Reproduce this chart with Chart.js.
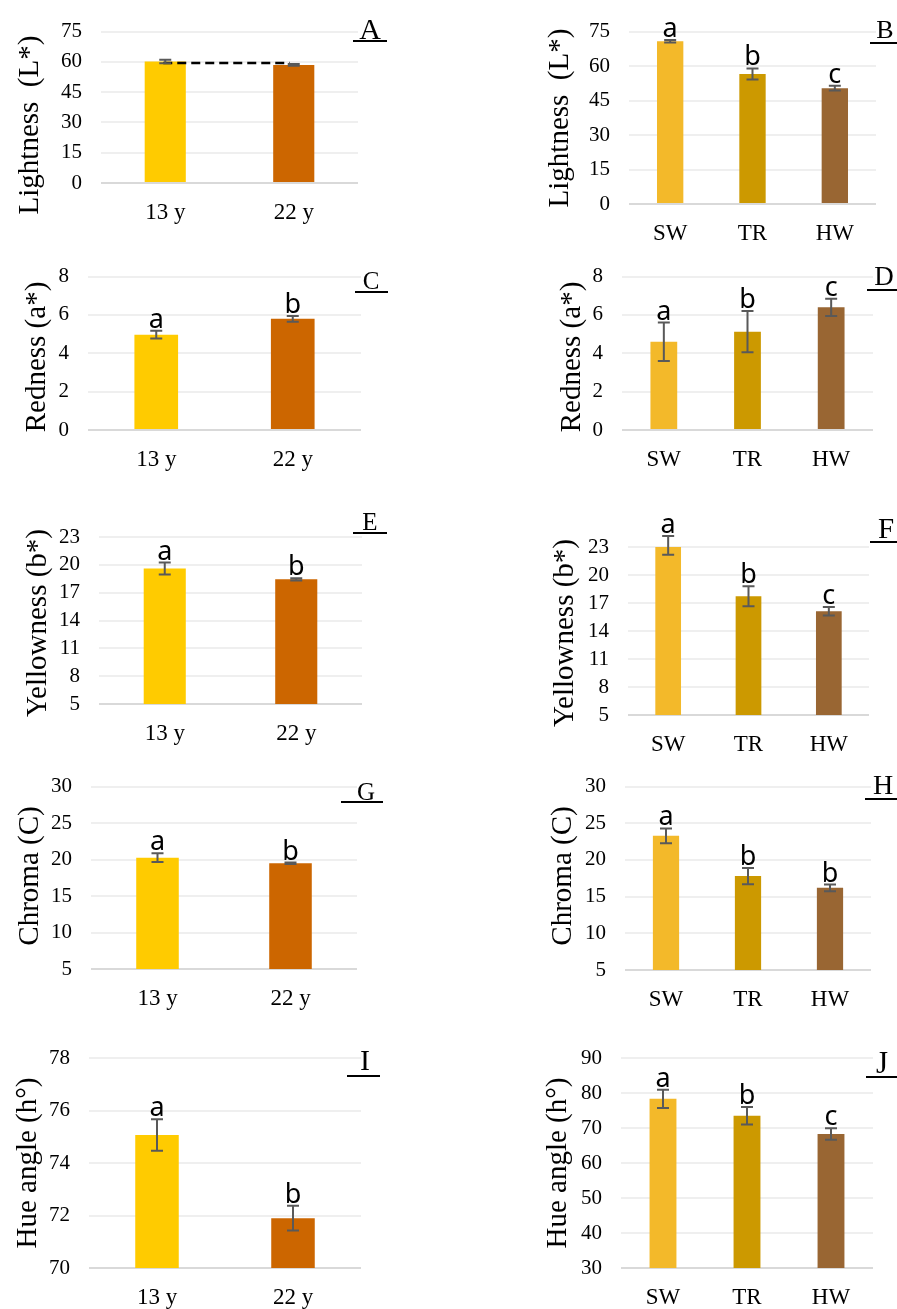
<!DOCTYPE html>
<html>
<head>
<meta charset="utf-8">
<script src="https://cdn.jsdelivr.net/npm/chart.js@4.4.1/dist/chart.umd.min.js"></script>
<style>
  body { margin: 0; background: #fff; width: 897px; height: 1309px; position: relative; overflow: hidden; }
  canvas { position: absolute; }
</style>
</head>
<body>
<script>
// categories
const ages = ['13 y', '22 y'];
const zones = ['SW', 'TR', 'HW'];
const ageColors = ['#FFCB00', '#CC6600'];
const zoneColors = ['#F3B92A', '#CC9900', '#996633'];

// Lightness
const lightAge = [60.2, 58.5];
const lightAgeErr = [0.9, 0.4];
const lightAgeLevel = 59.5; // dashed line, no difference
const lightZone = [70.8, 56.6, 50.4];
const lightZoneErr = [0.5, 2.4, 1.0];
const lightZoneMarks = ['a', 'b', 'c'];

// Redness
const redAge = [4.97, 5.8];
const redAgeErr = [0.2, 0.15];
const redAgeMarks = ['a', 'b'];
const redZone = [4.6, 5.13, 6.4];
const redZoneErr = [1.0, 1.07, 0.45];
const redZoneMarks = ['a', 'b', 'c'];

// Yellowness
const yelAge = [19.6, 18.44];
const yelAgeErr = [0.65, 0.12];
const yelAgeMarks = ['a', 'b'];
const yelZone = [23.18, 17.73, 16.12];
const yelZoneErr = [1.0, 1.07, 0.45];
const yelZoneMarks = ['a', 'b', 'c'];

// Chroma
const chrAge = [20.25, 19.48];
const chrAgeErr = [0.6, 0.1];
const chrAgeMarks = ['a', 'b'];
const chrZone = [23.29, 17.8, 16.2];
const chrZoneErr = [1.0, 1.1, 0.45];
const chrZoneMarks = ['a', 'b', 'b'];

// Hue angle
const hueAge = [75.07, 71.9];
const hueAgeErr = [0.6, 0.47];
const hueAgeMarks = ['a', 'b'];
const hueZone = [78.35, 73.5, 68.3];
const hueZoneErr = [2.6, 2.5, 1.65];
const hueZoneMarks = ['a', 'b', 'c'];

const SERIF = '"Liberation Serif", "Times New Roman", serif';
const SANS = '"Noto Sans", "Open Sans", sans-serif';

const cols = [[0, 450], [450, 897]];
const rows = [[0, 250], [245, 500], [495, 760], [755, 1020], [1015, 1309]];

const panels = [
  { name: 'A', cats: ages, vals: lightAge, errs: lightAgeErr, marks: null, colors: ageColors, dash: lightAgeLevel,
    min: 0, max: 75, step: 15, title: 'Lightness  (L*)', col: 0, row: 0,
    plot: [101, 24, 358, 183], titleAt: [30, 125], lab: [370, 39, 30, 353, 387, 41] },
  { name: 'B', cats: zones, vals: lightZone, errs: lightZoneErr, marks: lightZoneMarks, colors: zoneColors,
    min: 0, max: 75, step: 15, title: 'Lightness  (L*)', col: 1, row: 0,
    plot: [629, 24, 876, 204], titleAt: [560, 118], lab: [885, 38, 26, 870, 897, 43] },
  { name: 'C', cats: ages, vals: redAge, errs: redAgeErr, marks: redAgeMarks, colors: ageColors,
    min: 0, max: 8, step: 2, title: 'Redness (a*)', col: 0, row: 1,
    plot: [88, 274, 361, 430], titleAt: [37, 357], lab: [371, 289, 25, 355, 388, 292] },
  { name: 'D', cats: zones, vals: redZone, errs: redZoneErr, marks: redZoneMarks, colors: zoneColors,
    min: 0, max: 8, step: 2, title: 'Redness (a*)', col: 1, row: 1,
    plot: [622, 274, 873, 430], titleAt: [572, 357], lab: [884, 285, 27, 867, 897, 290] },
  { name: 'E', cats: ages, vals: yelAge, errs: yelAgeErr, marks: yelAgeMarks, colors: ageColors,
    min: 5, max: 23, step: 3, title: 'Yellowness (b*)', col: 0, row: 2,
    plot: [99, 537, 362, 704], titleAt: [38, 623], lab: [370, 530, 25, 353, 387, 533] },
  { name: 'F', cats: zones, vals: yelZone, errs: yelZoneErr, marks: yelZoneMarks, colors: zoneColors,
    min: 5, max: 23, step: 3, title: 'Yellowness (b*)', col: 1, row: 2,
    plot: [628, 547, 869, 715], titleAt: [565, 633], lab: [886, 538, 29, 870, 897, 542] },
  { name: 'G', cats: ages, vals: chrAge, errs: chrAgeErr, marks: chrAgeMarks, colors: ageColors,
    min: 5, max: 30, step: 5, title: 'Chroma (C)', col: 0, row: 3,
    plot: [91, 784, 357, 969], titleAt: [30, 876], lab: [366, 800, 25, 341, 383, 802] },
  { name: 'H', cats: zones, vals: chrZone, errs: chrZoneErr, marks: chrZoneMarks, colors: zoneColors,
    min: 5, max: 30, step: 5, title: 'Chroma (C)', col: 1, row: 3,
    plot: [625, 783, 871, 970], titleAt: [563, 876], lab: [883, 794, 28, 865, 897, 799] },
  { name: 'I', cats: ages, vals: hueAge, errs: hueAgeErr, marks: hueAgeMarks, colors: ageColors,
    min: 70, max: 78, step: 2, title: 'Hue angle (h°)', col: 0, row: 4,
    plot: [89, 1058, 361, 1268], titleAt: [28, 1163], lab: [365, 1070, 30, 347, 380, 1076] },
  { name: 'J', cats: zones, vals: hueZone, errs: hueZoneErr, marks: hueZoneMarks, colors: zoneColors,
    min: 30, max: 90, step: 10, title: 'Hue angle (h°)', col: 1, row: 4,
    plot: [621, 1058, 873, 1268], titleAt: [558, 1163], lab: [882, 1073, 31, 866, 897, 1077] }
];

// error bars, letters, titles and the panel letter
function decor(p, ox, oy) {
  return {
    id: 'decor' + p.name,
    afterDatasetsDraw(chart) {
      const ctx = chart.ctx;
      const y = chart.scales.y;
      const bars = chart.getDatasetMeta(0).data;
      ctx.save();
      if (p.dash !== undefined) {
        ctx.strokeStyle = '#000';
        ctx.lineWidth = 2.5;
        ctx.setLineDash([9, 5]);
        const py = y.getPixelForValue(p.dash);
        ctx.beginPath();
        ctx.moveTo(bars[0].x - 2, py);
        ctx.lineTo(bars[1].x - 4, py);
        ctx.stroke();
        ctx.setLineDash([]);
      }
      ctx.strokeStyle = '#595959';
      ctx.lineWidth = 2;
      p.vals.forEach(function(v, i) {
        const x = bars[i].x;
        const top = y.getPixelForValue(v + p.errs[i]);
        const bot = y.getPixelForValue(v - p.errs[i]);
        ctx.beginPath();
        ctx.moveTo(x, top); ctx.lineTo(x, bot);
        ctx.moveTo(x - 6, top); ctx.lineTo(x + 6, top);
        ctx.moveTo(x - 6, bot); ctx.lineTo(x + 6, bot);
        ctx.stroke();
        if (p.marks) {
          ctx.fillStyle = '#000';
          ctx.font = '27px ' + SANS;
          ctx.textAlign = 'center';
          ctx.textBaseline = 'alphabetic';
          ctx.fillText(p.marks[i], x, top - 3);
        }
      });
      ctx.restore();
    },
    afterDraw(chart) {
      const ctx = chart.ctx;
      ctx.save();
      ctx.fillStyle = '#000';
      ctx.font = '29px ' + SERIF;
      ctx.textAlign = 'center';
      ctx.textBaseline = 'middle';
      ctx.translate(p.titleAt[0] - ox, p.titleAt[1] - oy);
      ctx.rotate(-Math.PI / 2);
      ctx.fillText(p.title, 0, 0);
      ctx.restore();

      const l = p.lab;
      ctx.save();
      ctx.fillStyle = '#000';
      ctx.font = l[2] + 'px ' + SERIF;
      ctx.textAlign = 'center';
      ctx.textBaseline = 'alphabetic';
      ctx.fillText(p.name, l[0] - ox, l[1] - oy);
      ctx.fillRect(l[3] - ox, l[5] - oy - 1, l[4] - l[3], 2);
      ctx.restore();
    }
  };
}

panels.forEach(function(p) {
  const cl = cols[p.col][0], cr = cols[p.col][1];
  const rt = rows[p.row][0], rb = rows[p.row][1];
  const pl = p.plot[0], pt = p.plot[1], pr = p.plot[2], pb = p.plot[3];
  const cv = document.createElement('canvas');
  cv.width = cr - cl;
  cv.height = rb - rt;
  cv.style.left = cl + 'px';
  cv.style.top = rt + 'px';
  document.body.appendChild(cv);

  new Chart(cv, {
    type: 'bar',
    data: {
      labels: p.cats,
      datasets: [{
        data: p.vals,
        backgroundColor: p.colors,
        barPercentage: 0.32,
        categoryPercentage: 1
      }]
    },
    options: {
      responsive: false,
      animation: false,
      devicePixelRatio: 1,
      layout: { padding: { left: 0, top: pt - rt, right: cr - pr, bottom: 0 } },
      plugins: { legend: { display: false }, tooltip: { enabled: false } },
      scales: {
        x: {
          grid: { display: false },
          border: { display: false },
          ticks: { color: '#000', font: { family: SERIF, size: 23 }, padding: 8 },
          afterFit: function(s) { s.height = rb - pb; }
        },
        y: {
          min: p.min,
          max: p.max,
          grid: {
            color: function(c) { return c.tick && c.tick.value === p.min ? '#D9D9D9' : '#EFEFEF'; },
            lineWidth: 2,
            drawTicks: false
          },
          border: { display: false },
          ticks: { stepSize: p.step, autoSkip: false, color: '#000', font: { family: SERIF, size: 21 }, padding: 19 },
          afterFit: function(s) { s.width = pl - cl; }
        }
      }
    },
    plugins: [decor(p, cl, rt)]
  });
});
</script>
</body>
</html>
